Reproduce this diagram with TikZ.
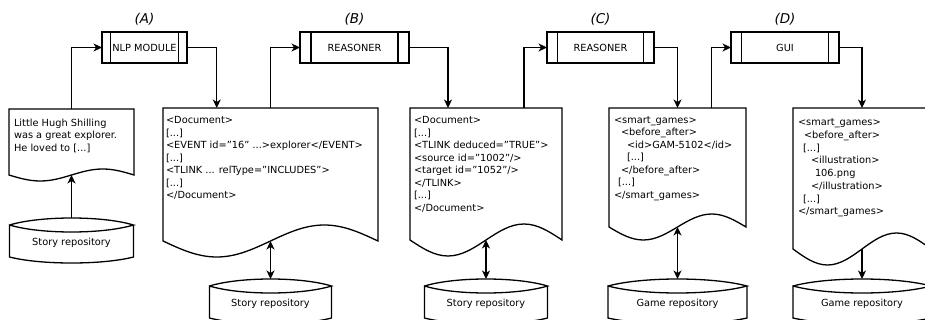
\documentclass[tikz,border=0pt]{standalone}
\usepackage{fontspec}
\setmainfont{DejaVu Sans}
\usetikzlibrary{calc,arrows.meta}
\tikzset{
  shp/.style={line width=1.3pt, line join=miter},
  arr/.style={line width=1.3pt, -{Stealth[length=8.5pt,width=8pt,inset=2.5pt]}},
  darr/.style={line width=1.3pt, {Stealth[length=8.5pt,width=8pt,inset=2.5pt]}-{Stealth[length=8.5pt,width=8pt,inset=2.5pt]}},
  region/.style={draw=none, inner sep=0pt, outer sep=0pt},
  doctext/.style={inner sep=0pt, outer sep=0pt, anchor=north west, align=left, font=\fontsize{9.8}{12.5}\selectfont},
  storebox/.style={inner sep=0pt, outer sep=0pt, minimum height=50pt, font=\fontsize{9.8}{12}\selectfont},
  procbox/.style={draw, line width=1.3pt, inner sep=0pt, outer sep=0pt, minimum height=31pt,
    font=\fontsize{9.8}{12}\selectfont,
    path picture={
      \draw[line width=1.3pt]
        ($(path picture bounding box.north west)!0.1!(path picture bounding box.north east)$) --
        ($(path picture bounding box.south west)!0.1!(path picture bounding box.south east)$)
        ($(path picture bounding box.north east)!0.1!(path picture bounding box.north west)$) --
        ($(path picture bounding box.south east)!0.1!(path picture bounding box.south west)$);
    }},
  stagelabel/.style={font=\fontsize{13.5}{16}\selectfont\itshape, inner sep=0pt},
}
\newcommand\elid{{}[...]}
% document outline: #1 node name, #2 wave amplitude
\newcommand\drawdocshape[2]{%
  \draw[shp] let \p1=(#1.north west), \p2=(#1.south east), \n1={(\x2-\x1)/4} in
    (\x1,\y1) -- (\x2,\y1) -- (\x2,\y2)
    sin (\x2-\n1*1pt,\y2+#2pt) cos (\x2-2*\n1*1pt,\y2)
    sin (\x2-3*\n1*1pt,\y2-#2pt) cos (\x1,\y2) -- cycle;}
% storage outline: #1 node name
\newcommand\drawstoreshape[1]{%
  \draw[shp] let \p1=(#1.north west), \p2=(#1.north east), \n1={(\x2-\x1)/4} in
    (\x1,\y1-7pt) .. controls (\x1+\n1*1pt,\y1+2.33pt) and (\x2-\n1*1pt,\y1+2.33pt) .. (\x2,\y1-7pt)
    .. controls (\x2-\n1*1pt,\y1-16.33pt) and (\x1+\n1*1pt,\y1-16.33pt) .. (\x1,\y1-7pt)
    -- (\x1,\y1-39pt)
    .. controls (\x1+\n1*1pt,\y1-47pt) and (\x2-\n1*1pt,\y1-47pt) .. (\x2,\y1-39pt)
    -- (\x2,\y1-7pt);}
\begin{document}
\begin{tikzpicture}[x=1pt,y=-1pt]
\useasboundingbox (0,0) rectangle (925,320);

% process boxes
\node[procbox, minimum width=85pt]  (nlp)  at (144.5,47.5) {NLP MODULE};
\node[procbox, minimum width=109pt] (reasB) at (354.5,47.5) {REASONER};
\node[procbox, minimum width=107pt] (reasC) at (600.5,47.5) {REASONER};
\node[procbox, minimum width=108pt] (gui)  at (785,47.5) {GUI};

% stage labels
\node[stagelabel] (labA) at (144.5,19) {(A)};
\node[stagelabel] (labB) at (354.5,19) {(B)};
\node[stagelabel] (labC) at (600.5,19) {(C)};
\node[stagelabel] (labD) at (785,19) {(D)};

% documents
\node[region, minimum width=125pt, minimum height=66pt]  (docA)  at (71.5,142) {};
\node[region, minimum width=215pt, minimum height=133pt] (docB)  at (270.5,174.5) {};
\node[region, minimum width=152pt, minimum height=132pt] (docC)  at (486,174) {};
\node[region, minimum width=137pt, minimum height=119pt] (docC2) at (677.5,167.5) {};
\node[region, minimum width=138pt, minimum height=141pt] (docD)  at (862,178.5) {};
\drawdocshape{docA}{6}
\drawdocshape{docB}{16}
\drawdocshape{docC}{16}
\drawdocshape{docC2}{13}
\drawdocshape{docD}{16}

\node[doctext] (txtA) at ($(docA.north west)+(5,10)$)
  {Little Hugh Shilling\\was a great explorer.\\He loved to [...]};
\node[doctext] (txtB) at ($(docB.north west)+(3,8.5)$)
  {<Document>\\\elid\\<EVENT id="16" ...>explorer</EVENT>\\\elid\\<TLINK ... relType="INCLUDES">\\\elid\\</Document>};
\node[doctext] (txtC) at ($(docC.north west)+(4,8.5)$)
  {<Document>\\\elid\\<TLINK deduced="TRUE">\\<source id="1002"/>\\<target id="1052"/>\\</TLINK>\\\elid\\</Document>};
\node[doctext] (txtC2) at ($(docC2.north west)+(5,8.5)$)
  {<smart\_games>\\\hspace*{7pt}<before\_after>\\\hspace*{13pt}<id>GAM-5102</id>\\\hspace*{13pt}[...]\\\hspace*{7pt}</before\_after>\\\hspace*{4pt}[...]\\</smart\_games>};
\node[doctext, font=\fontsize{9.8}{12.7}\selectfont] (txtD) at ($(docD.north west)+(5,11)$)
  {<smart\_games>\\\hspace*{6pt}<before\_after>\\\hspace*{5pt}[...]\\\hspace*{13pt}<illustration>\\\hspace*{17pt}106.png\\\hspace*{13pt}</illustration>\\\hspace*{5pt}[...]\\</smart\_games>};

% storages
\node[storebox, minimum width=124pt] (stA)  at (71.5,243) {Story repository};
\node[storebox, minimum width=122pt] (stB)  at (270.5,304) {Story repository};
\node[storebox, minimum width=123pt] (stC)  at (486,304) {Story repository};
\node[storebox, minimum width=139pt] (stC2) at (677.5,304) {Game repository};
\node[storebox, minimum width=138pt] (stD)  at (862,304) {Game repository};
\drawstoreshape{stA}
\drawstoreshape{stB}
\drawstoreshape{stC}
\drawstoreshape{stC2}
\drawstoreshape{stD}

% connectors
\draw[arr] (stA.north) -- (docA.south);
\draw[arr] (docA.north) |- (nlp.west);
\draw[arr] (nlp.east) -| ($(docB.north west)!0.25!(docB.north east)$);
\draw[arr] (docB.north) |- (reasB.west);
\draw[darr] (docB.south) -- (stB.north);
\draw[arr] (reasB.east) -| ($(docC.north west)!0.25!(docC.north east)$);
\draw[arr] ($(docC.north west)!0.75!(docC.north east)$) |- (reasC.west);
\draw[darr] (docC.south) -- (stC.north);
\draw[arr] (reasC.east) -| (docC2.north);
\draw[arr] ($(docC2.north west)!0.75!(docC2.north east)$) |- (gui.west);
\draw[darr] (docC2.south) -- (stC2.north);
\draw[arr] (gui.east) -| (docD.north);
\draw[arr] (docD.south) -- (stD.north);
\end{tikzpicture}
\end{document}
